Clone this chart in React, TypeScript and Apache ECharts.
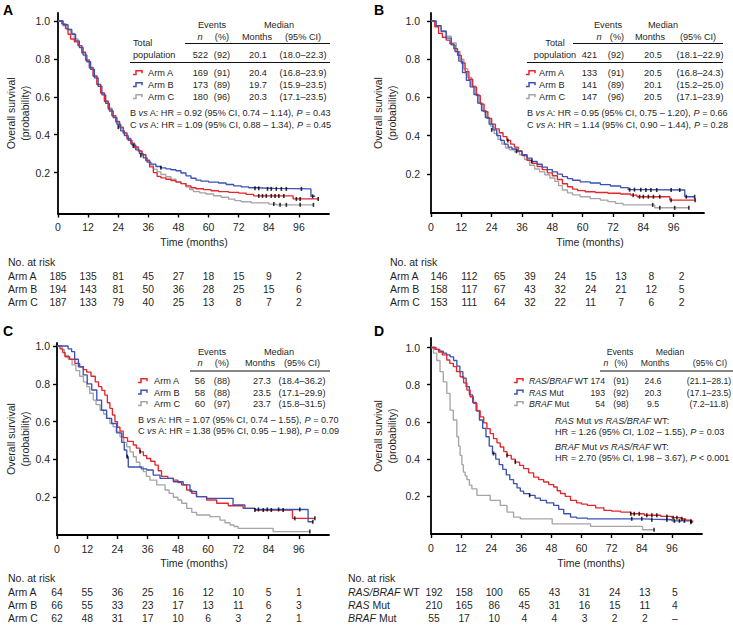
import React, { useEffect, useRef } from "react";
import * as echarts from "echarts";

const FONT = '"Liberation Sans", Arial, Helvetica, sans-serif';
const INK = "#1f1f1f";
const RED = "#e2272d";
const BLUE = "#3b52b4";
const GRAY = "#a5a5a5";

const timeTicks = [0, 12, 24, 36, 48, 60, 72, 84, 96];
const probTicks = [0.2, 0.4, 0.6, 0.8, 1.0];

// ---------- Panel A curves (month, survival) ----------
const aArmA: number[][] = [[0,1],[1.5,0.985],[3,0.96],[4,0.93],[5,0.905],[6.5,0.89],[8,0.87],[9.5,0.835],[11,0.795],[12.5,0.755],[14,0.71],[15.5,0.665],[17,0.62],[18.5,0.575],[20,0.535],[21.5,0.5],[23,0.47],[24.5,0.44],[26,0.41],[27.5,0.38],[29,0.355],[30.5,0.335],[32,0.315],[33.5,0.295],[35,0.265],[36.5,0.23],[38,0.2],[39.5,0.18],[41,0.172],[43,0.165],[45,0.158],[47,0.15],[49,0.142],[51,0.13],[53,0.12],[55,0.115],[58,0.11],[61,0.104],[64,0.1],[68,0.096],[72,0.092],[75,0.085],[78,0.077],[93.7,0.061],[103.7,0.061]];
const aArmB: number[][] = [[0,1],[2,0.98],[4,0.955],[5.5,0.93],[7,0.895],[8.5,0.86],[10,0.82],[11.5,0.785],[13,0.745],[14.5,0.7],[16,0.655],[17.5,0.61],[19,0.565],[20.5,0.525],[22,0.49],[23.5,0.455],[25,0.42],[26.5,0.395],[28,0.37],[29.5,0.345],[31,0.32],[32.5,0.3],[34,0.278],[35.5,0.255],[37,0.245],[39,0.232],[41,0.225],[43,0.22],[45,0.215],[47,0.21],[49,0.198],[51,0.183],[53,0.17],[55,0.16],[57,0.155],[60,0.15],[64,0.145],[67,0.137],[70,0.13],[73,0.125],[76,0.12],[79,0.117],[86,0.114],[100.8,0.075],[102.5,0.075]];
const aArmC: number[][] = [[0,1],[2,0.975],[3.5,0.955],[5,0.935],[6.5,0.905],[8,0.87],[9.5,0.83],[11,0.79],[12.5,0.75],[14,0.71],[15.5,0.665],[17,0.62],[18.5,0.58],[20,0.54],[21.5,0.5],[23,0.465],[24.5,0.435],[26,0.405],[27.5,0.375],[29,0.35],[30.5,0.33],[32,0.31],[33.5,0.29],[35,0.262],[36.5,0.24],[38,0.218],[39.5,0.205],[41,0.19],[43,0.178],[45,0.165],[47,0.152],[49,0.142],[51,0.125],[52.5,0.11],[54,0.1],[56.5,0.093],[59,0.087],[62,0.078],[65,0.07],[68,0.06],[70.5,0.052],[73,0.046],[77,0.04],[84,0.034],[87,0.03],[101.8,0.03]];
const aArmACens: number[][] = [[80,0.077],[81.5,0.077],[83,0.077],[85,0.077],[86.5,0.077],[88,0.077],[90,0.077],[95,0.061],[96.5,0.061],[103.7,0.061]];
const aArmBCens: number[][] = [[24,0.44],[33,0.29],[41,0.225],[78.5,0.117],[80,0.117],[83.5,0.114],[85,0.114],[87,0.114],[89,0.114],[91,0.114],[97,0.114],[101.5,0.075]];
const aArmCCens: number[][] = [[30,0.34],[86,0.034],[88.5,0.03],[91,0.03],[96.5,0.03],[101.8,0.03]];

// ---------- Panel B curves ----------
const bArmA: number[][] = [[0,1],[1.5,0.97],[3,0.935],[4.5,0.915],[6,0.9],[7.5,0.88],[9,0.855],[10.5,0.82],[12,0.78],[13.5,0.735],[15,0.695],[16.5,0.655],[18,0.61],[19.5,0.565],[21,0.525],[22.5,0.49],[24,0.46],[25.5,0.435],[27,0.415],[28.5,0.395],[30,0.375],[31.5,0.355],[33,0.34],[34.5,0.32],[36,0.295],[38,0.27],[40,0.255],[42,0.238],[44,0.222],[46,0.205],[48,0.19],[50,0.17],[52,0.148],[54,0.132],[56,0.12],[58,0.112],[61,0.106],[65,0.102],[70,0.098],[75,0.094],[79,0.088],[81.5,0.08],[94.5,0.062],[104.5,0.062]];
const bArmB: number[][] = [[0,1],[2,0.975],[4,0.945],[6,0.91],[8,0.875],[9.5,0.84],[11,0.79],[12.5,0.73],[14,0.69],[15.5,0.655],[17,0.615],[18.5,0.57],[20,0.53],[21.5,0.495],[23,0.46],[24.5,0.43],[26,0.4],[27.5,0.375],[29,0.355],[30.5,0.34],[32,0.33],[34,0.318],[36,0.3],[38,0.282],[40,0.265],[42,0.25],[44,0.235],[46,0.222],[48,0.21],[50,0.198],[52,0.185],[54,0.175],[56,0.166],[59,0.158],[63,0.152],[67,0.143],[71,0.136],[75,0.128],[78,0.117],[84,0.115],[100.4,0.08],[104.3,0.08]];
const bArmC: number[][] = [[0,1],[2,0.975],[4,0.95],[6,0.92],[8,0.885],[10,0.84],[11.5,0.8],[13,0.75],[14.5,0.705],[16,0.66],[17.5,0.615],[19,0.57],[20.5,0.53],[22,0.49],[23.5,0.45],[25,0.41],[26.5,0.38],[28,0.355],[29.5,0.335],[31,0.325],[33,0.315],[35,0.3],[37,0.275],[39,0.245],[41,0.225],[43,0.21],[45,0.195],[47,0.178],[49,0.16],[50.5,0.138],[52,0.115],[54,0.1],[56,0.09],[59,0.08],[63,0.07],[67,0.062],[70,0.054],[73,0.045],[76,0.037],[88.5,0.022],[102,0.022]];
const bArmACens: number[][] = [[30.4,0.375],[80,0.088],[82.5,0.08],[84,0.08],[86,0.08],[88,0.08],[90.5,0.08],[95,0.062],[104.5,0.062]];
const bArmBCens: number[][] = [[24,0.43],[33.8,0.318],[39.8,0.265],[78.6,0.117],[80.5,0.117],[83,0.117],[85,0.115],[87,0.115],[89.3,0.115],[95,0.115],[98.4,0.115],[101,0.08],[104.3,0.08]];
const bArmCCens: number[][] = [[87.7,0.037],[90.5,0.022],[96.4,0.022],[102,0.022]];

// ---------- Panel C curves ----------
const cArmA: number[][] = [[0,1],[1.2,0.985],[2.3,0.965],[3.2,0.943],[5,0.93],[7.1,0.908],[9,0.89],[10.5,0.875],[11.8,0.862],[13.5,0.84],[15.2,0.81],[16.5,0.785],[17.8,0.765],[19,0.74],[20,0.7],[21,0.67],[22,0.635],[23,0.6],[24,0.57],[25,0.55],[26.3,0.515],[28,0.495],[30.3,0.476],[31.5,0.46],[32.9,0.44],[34.3,0.42],[35.6,0.405],[37.2,0.39],[38.9,0.37],[40.2,0.34],[41.5,0.31],[44,0.3],[46.2,0.29],[48,0.277],[49.5,0.265],[51.5,0.238],[53.5,0.22],[55.4,0.203],[59.4,0.185],[63.4,0.168],[68,0.155],[73.9,0.141],[78.6,0.132],[93.5,0.088],[102.4,0.088]];
const cArmB: number[][] = [[0,1],[4.4,0.985],[5.8,0.97],[7,0.93],[8.5,0.89],[10.4,0.847],[12,0.8],[13.8,0.767],[15.8,0.714],[17.7,0.66],[19.7,0.617],[21.7,0.59],[23.7,0.54],[25.7,0.49],[26.7,0.45],[27.7,0.414],[28.3,0.36],[31.6,0.36],[33.5,0.35],[35.6,0.344],[38.2,0.317],[40.9,0.3],[46.2,0.282],[50.1,0.265],[52.8,0.23],[55.4,0.203],[59.4,0.194],[69.9,0.159],[74.6,0.141],[78.6,0.135],[99.7,0.07],[101.6,0.07]];
const cArmC: number[][] = [[0,1],[2,0.98],[3,0.95],[4.5,0.93],[6,0.9],[7.5,0.87],[9,0.84],[10.5,0.81],[11.8,0.785],[13,0.75],[14.4,0.714],[15.5,0.69],[17.1,0.66],[18.5,0.64],[19.7,0.617],[21,0.59],[22.3,0.573],[23.5,0.545],[25,0.52],[26.5,0.49],[27.7,0.467],[29,0.44],[30.3,0.414],[31.5,0.385],[32.9,0.36],[34.3,0.335],[35.5,0.31],[36.9,0.29],[39.6,0.265],[42.9,0.238],[44.5,0.22],[46.2,0.2],[48,0.185],[49.5,0.168],[51.5,0.141],[53.5,0.12],[55.4,0.106],[60.7,0.097],[64.7,0.079],[66.7,0.065],[68.7,0.053],[70.3,0.045],[71.9,0.035],[85.8,0.018],[100.4,0.018]];
const cArmACens: number[][] = [[33,0.44],[78.6,0.132],[81.9,0.132],[85.1,0.132],[89.8,0.132],[94.4,0.088],[102.4,0.088]];
const cArmBCens: number[][] = [[27.9,0.414],[80,0.135],[83.5,0.135],[88,0.135],[96.4,0.135],[101.6,0.07]];
const cArmCCens: number[][] = [[100.4,0.018]];

// ---------- Panel D curves ----------
const dWt: number[][] = [[0,1],[1.5,0.99],[3,0.975],[4.5,0.96],[6.3,0.933],[7.5,0.915],[8.9,0.897],[10.2,0.87],[11.6,0.843],[13,0.81],[14.3,0.771],[15.6,0.735],[16.9,0.7],[18.3,0.66],[19.6,0.627],[21,0.595],[22.3,0.564],[23.6,0.537],[24.9,0.51],[26.3,0.487],[27.6,0.465],[29,0.44],[30.3,0.42],[32,0.4],[33.6,0.384],[35.3,0.366],[36.9,0.349],[38.9,0.326],[40.9,0.303],[42.9,0.29],[44.9,0.277],[46.9,0.263],[48.9,0.25],[50.3,0.23],[51.6,0.215],[53.5,0.2],[55.6,0.178],[58,0.165],[60,0.158],[62.3,0.151],[65.6,0.138],[68.9,0.124],[72,0.12],[75.6,0.115],[79.6,0.106],[85,0.098],[91.6,0.092],[96,0.085],[99.6,0.079],[101.5,0.072],[103.6,0.066],[104.5,0.066]];
const dRas: number[][] = [[0,1],[2,0.99],[3.5,0.98],[4.9,0.97],[6.2,0.96],[7.6,0.95],[9,0.93],[10.3,0.9],[11.5,0.87],[12.7,0.835],[14,0.79],[15.3,0.745],[16.6,0.705],[18,0.66],[19.3,0.61],[20.6,0.565],[21.9,0.52],[23.2,0.47],[24.5,0.43],[25.8,0.4],[27.2,0.37],[28.6,0.345],[30,0.315],[31.4,0.29],[32.9,0.268],[34.3,0.245],[35.6,0.228],[36.9,0.214],[39.3,0.205],[41.5,0.19],[43.6,0.178],[46,0.165],[48.9,0.151],[50.9,0.13],[52.9,0.106],[55.6,0.088],[58,0.083],[62.3,0.079],[84.3,0.077],[87.6,0.074],[96,0.068],[103.6,0.061],[104.5,0.061]];
const dBraf: number[][] = [[0,1],[1,0.97],[2.3,0.93],[3.6,0.87],[4.9,0.815],[6.3,0.753],[7.6,0.663],[8.9,0.61],[10.3,0.52],[11,0.47],[11.6,0.42],[12.3,0.37],[12.9,0.33],[13.6,0.31],[14.3,0.29],[15.3,0.26],[16.3,0.24],[18.3,0.205],[23.6,0.178],[27.6,0.151],[30.3,0.115],[32.9,0.088],[35.6,0.079],[48.3,0.052],[63.6,0.038],[84.3,0.02],[88.9,0.02]];
const dWtCens: number[][] = [[30.3,0.42],[33.6,0.384],[79.6,0.106],[81,0.106],[83,0.106],[86,0.098],[88,0.098],[90,0.098],[94,0.092],[96.5,0.085],[98,0.085],[100,0.079],[103.6,0.066]];
const dRasCens: number[][] = [[24.9,0.43],[39.3,0.205],[80,0.079],[84,0.079],[88,0.074],[94,0.074],[97,0.068],[99,0.068],[101,0.068],[103.6,0.061]];
const dBrafCens: number[][] = [[88.9,0.02]];

// ---------- Numbers at risk ----------
const riskA_ArmA = [185,135,81,45,27,18,15,9,2];
const riskA_ArmB = [194,143,81,50,36,28,25,15,6];
const riskA_ArmC = [187,133,79,40,25,13,8,7,2];
const riskB_ArmA = [146,112,65,39,24,15,13,8,2];
const riskB_ArmB = [158,117,67,43,32,24,21,12,5];
const riskB_ArmC = [153,111,64,32,22,11,7,6,2];
const riskC_ArmA = [64,55,36,25,16,12,10,5,1];
const riskC_ArmB = [66,55,33,23,17,13,11,6,3];
const riskC_ArmC = [62,48,31,17,10,6,3,2,1];
const riskD_Wt = [192,158,100,65,43,31,24,13,5];
const riskD_Ras = [210,165,86,45,31,16,15,11,4];
const riskD_Braf: (number | string)[] = [55,17,10,4,4,3,2,2,"–"];

// ---------- Summary tables ----------
const armLabels = ["Arm A", "Arm B", "Arm C"];
const mutLabels = ["{i|RAS/BRAF} WT", "{i|RAS} Mut", "{i|BRAF} Mut"];
const sumA = [["169","(91)","20.4","(16.8–23.9)"],["173","(89)","19.7","(15.9–23.5)"],["180","(96)","20.3","(17.1–23.5)"]];
const totA = ["522","(92)","20.1","(18.0–22.3)"];
const sumB = [["133","(91)","20.5","(16.8–24.3)"],["141","(89)","20.1","(15.2–25.0)"],["147","(96)","20.5","(17.1–23.9)"]];
const totB = ["421","(92)","20.5","(18.1–22.9)"];
const sumC = [["56","(88)","27.3","(18.4–36.2)"],["58","(88)","23.5","(17.1–29.9)"],["60","(97)","23.7","(15.8–31.5)"]];
const sumD = [["174","(91)","24.6","(21.1–28.1)"],["193","(92)","20.3","(17.1–23.5)"],["54","(98)","9.5","(7.2–11.8)"]];
const hrA = ["B {i|vs} A: HR = 0.92 (95% CI, 0.74 – 1.14), {i|P} = 0.43", "C {i|vs} A: HR = 1.09 (95% CI, 0.88 – 1.34), {i|P} = 0.45"];
const hrB = ["B {i|vs} A: HR = 0.95 (95% CI, 0.75 – 1.20), {i|P} = 0.66", "C {i|vs} A: HR = 1.14 (95% CI, 0.90 – 1.44), {i|P} = 0.28"];
const hrC = ["B {i|vs} A: HR = 1.07 (95% CI, 0.74 – 1.55), {i|P} = 0.70", "C {i|vs} A: HR = 1.38 (95% CI, 0.95 – 1.98), {i|P} = 0.09"];
const hrD = ["{i|RAS} Mut {i|vs RAS/BRAF} WT:", "HR = 1.26 (95% CI, 1.02 – 1.55), {i|P} = 0.03", "{i|BRAF} Mut {i|vs RAS/RAF} WT:", "HR = 2.70 (95% CI, 1.98 – 3.67), {i|P} < 0.001"];

// ---------- Layout ----------
type Layout = { left: number; width: number; axisTop: number; axisBottom: number; y1: number; y0: number };
const panels = [
  {
    letter: "A", letterPos: [3, 10], lay: { left: 58, width: 271, axisTop: 13, axisBottom: 213.5, y1: 21, y0: 210.5 } as Layout,
    yMargin: 8, yTitle: [11, 25], timeLabel: [194, 242], risk: { x: 8, y: 262, rows: [276, 289, 302], off: 0 },
    curves: [
      { data: aArmC, cens: aArmCCens, color: GRAY },
      { data: aArmA, cens: aArmACens, color: RED },
      { data: aArmB, cens: aArmBCens, color: BLUE },
    ],
    riskRows: [riskA_ArmA, riskA_ArmB, riskA_ArmC], riskLabels: armLabels,
  },
  {
    letter: "B", letterPos: [374, 10], lay: { left: 431, width: 273, axisTop: 13, axisBottom: 213, y1: 21, y0: 212 } as Layout,
    yMargin: 11, yTitle: [378, 392], timeLabel: [590, 242], risk: { x: 390, y: 262, rows: [276, 289, 302], off: 8 },
    curves: [
      { data: bArmC, cens: bArmCCens, color: GRAY },
      { data: bArmA, cens: bArmACens, color: RED },
      { data: bArmB, cens: bArmBCens, color: BLUE },
    ],
    riskRows: [riskB_ArmA, riskB_ArmB, riskB_ArmC], riskLabels: armLabels,
  },
  {
    letter: "C", letterPos: [3, 331], lay: { left: 57, width: 272, axisTop: 343, axisBottom: 535, y1: 346, y0: 535 } as Layout,
    yMargin: 7, yTitle: [11, 25], timeLabel: [194, 563], risk: { x: 8, y: 578, rows: [592, 605, 618], off: 0 },
    curves: [
      { data: cArmC, cens: cArmCCens, color: GRAY },
      { data: cArmA, cens: cArmACens, color: RED },
      { data: cArmB, cens: cArmBCens, color: BLUE },
    ],
    riskRows: [riskC_ArmA, riskC_ArmB, riskC_ArmC], riskLabels: armLabels,
  },
  {
    letter: "D", letterPos: [374, 331], lay: { left: 431, width: 271, axisTop: 338, axisBottom: 534, y1: 347.5, y0: 533.5 } as Layout,
    yMargin: 11, yTitle: [378, 392], timeLabel: [591, 563], risk: { x: 348, y: 578, rows: [592, 605, 618], off: 3 },
    curves: [
      { data: dBraf, cens: dBrafCens, color: GRAY },
      { data: dRas, cens: dRasCens, color: BLUE },
      { data: dWt, cens: dWtCens, color: RED },
    ],
    riskRows: [riskD_Wt, riskD_Ras, riskD_Braf], riskLabels: mutLabels,
  },
];

const T = (x: number, y: number, text: string, o: any = {}) => {
  const size = o.size ?? 9.2;
  const fill = o.fill ?? INK;
  const align = o.align ?? "left";
  return {
    type: "text", x, y, silent: true, rotation: o.rot ?? 0,
    style: {
      text, fontSize: size, fontFamily: FONT, fontWeight: o.bold ? "bold" : "normal", fill,
      align, textAlign: align, verticalAlign: "middle", textVerticalAlign: "middle",
      rich: { i: { fontStyle: "italic", fontSize: size, fontFamily: FONT, fill } },
    },
  };
};
const HL = (x1: number, x2: number, y: number) => ({
  type: "line", silent: true, shape: { x1, y1: y, x2, y2: y }, style: { stroke: "#111", lineWidth: 1 },
});
const SYM = (x: number, y: number, color: string) => ({
  type: "polyline", silent: true,
  shape: { points: [[x, y + 1.6], [x + 3, y + 1.6], [x + 3, y - 2.2], [x + 9, y - 2.2], [x + 9, y + 0.3]] },
  style: { stroke: color, lineWidth: 1.5, fill: "none" },
});

function summaryGraphics(): any[] {
  const g: any[] = [];
  const colors = [RED, BLUE, GRAY];
  // Panel A
  g.push(T(212, 25, "Events", { align: "center" }), T(279, 25, "Median", { align: "center" }));
  g.push(T(200, 37, "{i|n}", { align: "center" }), T(222, 37, "(%)", { align: "center" }), T(257, 37, "Months", { align: "center" }), T(303, 37, "(95% CI)", { align: "center" }));
  g.push(HL(185, 330, 43.5));
  g.push(T(133, 43, "Total"), T(133, 55, "population"));
  g.push(T(208, 55, totA[0], { align: "right" }), T(222, 55, totA[1], { align: "center" }), T(258, 55, totA[2], { align: "center" }), T(303, 55, totA[3], { align: "center" }));
  g.push(HL(130, 330, 62.5));
  [73, 85, 97].forEach((y, i) => {
    g.push(SYM(133, y, colors[i]), T(148, y, armLabels[i]));
    g.push(T(208, y, sumA[i][0], { align: "right" }), T(222, y, sumA[i][1], { align: "center" }), T(258, y, sumA[i][2], { align: "center" }), T(303, y, sumA[i][3], { align: "center" }));
  });
  g.push(T(130, 113, hrA[0], { size: 9.1 }), T(130, 124.5, hrA[1], { size: 9.1 }));
  // Panel B
  g.push(T(608, 25, "Events", { align: "center" }), T(663, 25, "Median", { align: "center" }));
  g.push(T(599, 37, "{i|n}", { align: "center" }), T(617, 37, "(%)", { align: "center" }), T(650, 37, "Months", { align: "center" }), T(698, 37, "(95% CI)", { align: "center" }));
  g.push(HL(573, 723, 43.5));
  g.push(T(555, 43, "Total", { align: "center" }), T(555, 55, "population", { align: "center" }));
  g.push(T(597, 55, totB[0], { align: "right" }), T(616, 55, totB[1], { align: "center" }), T(653, 55, totB[2], { align: "center" }), T(700, 55, totB[3], { align: "center" }));
  g.push(HL(527, 723, 62.5));
  [73, 85, 97].forEach((y, i) => {
    g.push(SYM(526, y, colors[i]), T(539, y, armLabels[i]));
    g.push(T(597, y, sumB[i][0], { align: "right" }), T(616, y, sumB[i][1], { align: "center" }), T(653, y, sumB[i][2], { align: "center" }), T(700, y, sumB[i][3], { align: "center" }));
  });
  g.push(T(527, 113, hrB[0], { size: 9.1 }), T(527, 124.5, hrB[1], { size: 9.1 }));
  // Panel C
  g.push(T(212, 352, "Events", { align: "center" }), T(279, 352, "Median", { align: "center" }));
  g.push(T(200, 363, "{i|n}", { align: "center" }), T(222, 363, "(%)", { align: "center" }), T(260, 363, "Months", { align: "center" }), T(302, 363, "(95% CI)", { align: "center" }));
  g.push(HL(190, 330, 371));
  [381, 392.5, 404].forEach((y, i) => {
    g.push(SYM(138, y, colors[i]), T(154, y, armLabels[i]));
    g.push(T(205, y, sumC[i][0], { align: "right" }), T(222, y, sumC[i][1], { align: "center" }), T(262, y, sumC[i][2], { align: "center" }), T(302, y, sumC[i][3], { align: "center" }));
  });
  g.push(T(138, 419.5, hrC[0], { size: 9.1 }), T(138, 431, hrC[1], { size: 9.1 }));
  // Panel D
  const ds = 8.7;
  g.push(T(620, 352, "Events", { align: "center", size: ds }), T(670, 352, "Median", { align: "center", size: ds }));
  g.push(T(606, 363, "{i|n}", { align: "center", size: ds }), T(621, 363, "(%)", { align: "center", size: ds }), T(655, 363, "Months", { align: "center", size: ds }), T(710, 363, "(95% CI)", { align: "center", size: ds }));
  g.push(HL(600, 733, 371));
  [381, 392.5, 404].forEach((y, i) => {
    g.push(SYM(514, y, colors[i]), T(529, y, mutLabels[i], { size: ds }));
    g.push(T(605, y, sumD[i][0], { align: "right", size: ds }), T(621, y, sumD[i][1], { align: "center", size: ds }), T(653, y, sumD[i][2], { align: "center", size: ds }), T(709, y, sumD[i][3], { align: "center", size: ds }));
  });
  g.push(T(555, 421, hrD[0], { size: 9.1 }), T(555, 432, hrD[1], { size: 9.1 }), T(555, 446.5, hrD[2], { size: 9.1 }), T(555, 457.5, hrD[3], { size: 9.1 }));
  return g;
}

function buildOption() {
  const grids: any[] = [], xAxes: any[] = [], yAxes: any[] = [], series: any[] = [];
  panels.forEach((p, i) => {
    const L = p.lay;
    const unit = L.y0 - L.y1;
    const ymin = -(L.axisBottom - L.y0) / unit;
    const ymax = 1 + (L.y1 - L.axisTop) / unit;
    grids.push({ left: L.left, top: L.axisTop, width: L.width, height: L.axisBottom - L.axisTop, containLabel: false });
    xAxes.push({
      type: "value", gridIndex: i, min: 0, max: 108,
      axisLine: { show: true, onZero: false, lineStyle: { color: "#000", width: 1.8 } },
      axisTick: { show: true, length: 4, customValues: timeTicks, lineStyle: { color: "#000", width: 1.4 } },
      axisLabel: { customValues: timeTicks, fontSize: 10.5, fontFamily: FONT, color: INK, margin: 8 },
      splitLine: { show: false },
    });
    yAxes.push({
      type: "value", gridIndex: i, min: ymin, max: ymax,
      axisLine: { show: true, onZero: false, lineStyle: { color: "#000", width: 1.8 } },
      axisTick: { show: true, length: 4, customValues: probTicks, lineStyle: { color: "#000", width: 1.4 } },
      axisLabel: { customValues: probTicks, fontSize: 10.5, fontFamily: FONT, color: INK, margin: p.yMargin, formatter: (v: number) => v.toFixed(1) },
      splitLine: { show: false },
    });
    p.curves.forEach((c) => {
      series.push({
        type: "line", xAxisIndex: i, yAxisIndex: i, data: c.data, step: "end",
        symbol: "none", showSymbol: false, silent: true, clip: false,
        lineStyle: { color: c.color, width: 1.35 }, z: 2,
      });
    });
    p.curves.forEach((c) => {
      series.push({
        type: "scatter", xAxisIndex: i, yAxisIndex: i, data: c.cens, symbol: "rect",
        symbolSize: [1.6, 4], silent: true, itemStyle: { color: "#000" }, z: 3,
      });
    });
  });
  return { animation: false, backgroundColor: "#fff", grid: grids, xAxis: xAxes, yAxis: yAxes, series };
}

function buildGraphics(chart: any) {
  const g: any[] = [];
  panels.forEach((p, i) => {
    const L = p.lay;
    g.push(T(p.letterPos[0], p.letterPos[1], p.letter, { size: 14, bold: true, fill: "#000" }));
    const yc = (L.axisTop + L.axisBottom) / 2;
    g.push(T(p.yTitle[0], yc, "Overall survival", { size: 10.5, align: "center", rot: Math.PI / 2 }));
    g.push(T(p.yTitle[1], yc, "(probability)", { size: 10.5, align: "center", rot: Math.PI / 2 }));
    g.push(T(p.timeLabel[0], p.timeLabel[1], "Time (months)", { size: 10.5, align: "center" }));
    g.push(T(p.risk.x, p.risk.y, "No. at risk", { size: 10.5 }));
    p.riskRows.forEach((row, r) => {
      const y = p.risk.rows[r];
      g.push(T(p.risk.x, y, p.riskLabels[r], { size: 10.5 }));
      row.forEach((v, k) => {
        const x = chart.convertToPixel({ xAxisIndex: i }, timeTicks[k]) + p.risk.off;
        g.push(T(x, y, String(v), { size: 10.3, align: "center" }));
      });
    });
  });
  return g.concat(summaryGraphics());
}

export default function App() {
  const ref = useRef<HTMLDivElement>(null);
  useEffect(() => {
    const chart = echarts.init(ref.current!, null, { renderer: "svg" });
    chart.setOption(buildOption());
    chart.setOption({ graphic: { elements: buildGraphics(chart) } });
    return () => chart.dispose();
  }, []);
  return <div ref={ref} style={{ position: "absolute", left: 0, top: 0, width: 733, height: 626 }} />;
}
